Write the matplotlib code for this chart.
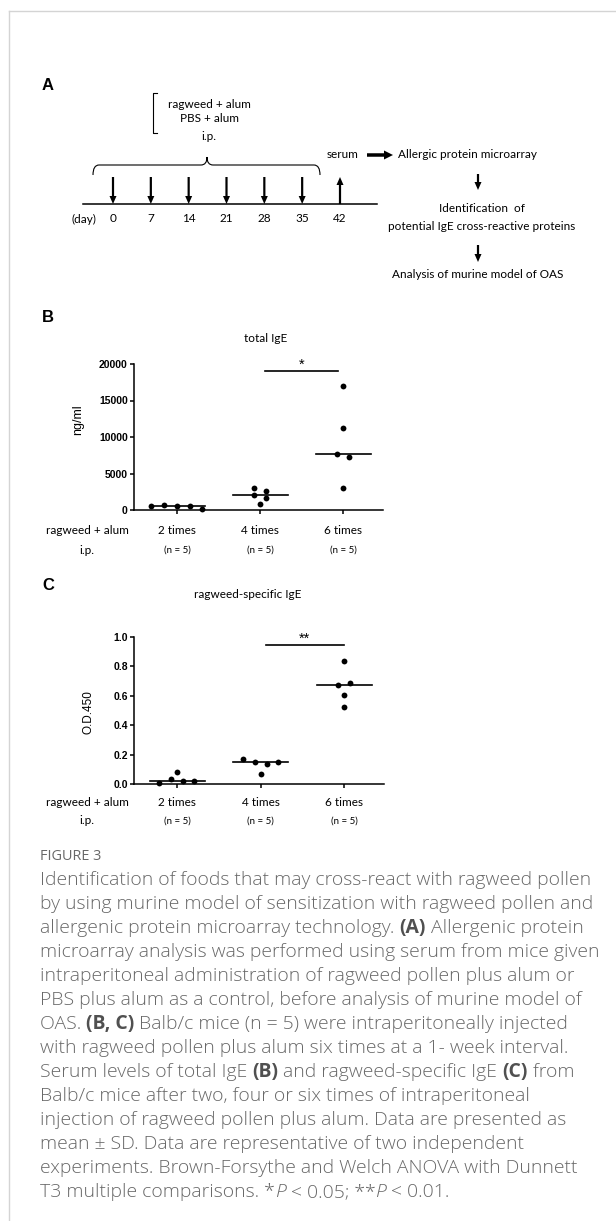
import numpy as np
import matplotlib
matplotlib.use("Agg")
import matplotlib.pyplot as plt
import matplotlib.transforms as mtransforms
from matplotlib.path import Path
from matplotlib.patches import PathPatch

# ---- data ----
groups = ["2 times", "4 times", "6 times"]
group_n = ["(n = 5)", "(n = 5)", "(n = 5)"]
row_label = ["ragweed + alum", "i.p."]

total_ige = [
    [600, 650, 580, 560, 150],
    [3000, 2100, 820, 2560, 1640],
    [16990, 11230, 7670, 7300, 3010],
]
specific_ige = [
    [0.008, 0.035, 0.083, 0.020, 0.020],
    [0.172, 0.152, 0.066, 0.137, 0.153],
    [0.836, 0.673, 0.690, 0.605, 0.525],
]
total_ticks = [0, 5000, 10000, 15000, 20000]
specific_ticks = [0.0, 0.2, 0.4, 0.6, 0.8, 1.0]

schedule_days = [0, 7, 14, 21, 28, 35]
serum_day = 42

# horizontal scatter of dots within a group (layout only)
spread_total = [[-0.31, -0.16, 0.0, 0.15, 0.30],
                [-0.07, -0.07, 0.0, 0.07, 0.07],
                [0.0, 0.0, -0.07, 0.07, 0.0]]
spread_specific = [[-0.22, -0.08, 0.0, 0.07, 0.20],
                   [-0.21, -0.07, 0.0, 0.07, 0.21],
                   [0.0, -0.07, 0.07, 0.0, 0.0]]

caption = [
    [("Identification of foods that may cross-react with ragweed pollen", "")],
    [("by using murine model of sensitization with ragweed pollen and", "")],
    [("allergenic protein microarray technology. ", ""), ("(A)", "b"), (" Allergenic protein", "")],
    [("microarray analysis was performed using serum from mice given", "")],
    [("intraperitoneal administration of ragweed pollen plus alum or", "")],
    [("PBS plus alum as a control, before analysis of murine model of", "")],
    [("OAS. ", ""), ("(B, C)", "b"), (" Balb/c mice (n = 5) were intraperitoneally injected", "")],
    [("with ragweed pollen plus alum six times at a 1- week interval.", "")],
    [("Serum levels of total IgE ", ""), ("(B)", "b"), (" and ragweed-specific IgE ", ""), ("(C)", "b"), (" from", "")],
    [("Balb/c mice after two, four or six times of intraperitoneal", "")],
    [("injection of ragweed pollen plus alum. Data are presented as", "")],
    [("mean \u00b1 SD. Data are representative of two independent", "")],
    [("experiments. Brown-Forsythe and Welch ANOVA with Dunnett", "")],
    [("T3 multiple comparisons. *", ""), ("P", "i"), (" < 0.05; **", ""), ("P", "i"), (" < 0.01.", "")],
]

LABEL_FONT = "Lato"
AXIS_FONT = "Liberation Sans"
CAP_FONT = "Open Sans"
CAP_GREY = "#686868"

fig = plt.figure(figsize=(6.16, 12.21), dpi=100)
page = fig.add_axes([0, 0, 1, 1])
page.set_xlim(0, 616)
page.set_ylim(1221, 0)
page.axis("off")

# page frame
page.plot([9, 9], [11, 1221], color="#d4d4d4", lw=1)
page.plot([9, 616], [11, 11], color="#d4d4d4", lw=1)

panel_kw = dict(fontsize=12, fontweight="bold", family=AXIS_FONT, ha="center", va="center")

# ---- panel A: schedule diagram ----
page.text(48, 86, "A", **panel_kw)

def day_x(d):
    return 113 + d * (340 - 113) / 42

txt = dict(family=LABEL_FONT, fontsize=8.5, ha="center", va="center")
page.plot([157, 153, 153, 157], [93, 93, 133, 133], color="k", lw=0.8)
page.text(209, 105, "ragweed + alum", **txt)
page.text(209, 119, "PBS + alum", **txt)
page.text(209, 136, "i.p.", **txt)

brace = Path([(93, 175), (93, 165), (99, 165), (201, 165), (207, 165), (207, 157),
              (207, 165), (213, 165), (314, 165), (320, 165), (320, 175)],
             [Path.MOVETO, Path.CURVE3, Path.CURVE3, Path.LINETO, Path.CURVE3, Path.CURVE3,
              Path.CURVE3, Path.CURVE3, Path.LINETO, Path.CURVE3, Path.CURVE3])
page.add_patch(PathPatch(brace, fill=False, lw=0.8, color="k"))

page.plot([83, 377], [204, 204], color="k", lw=1.1)
arrow_kw = dict(width=2.2, head_width=7, head_length=8, length_includes_head=True, color="k", lw=0)
for d in schedule_days:
    page.arrow(day_x(d), 177, 0, 27, **arrow_kw)
    page.text(day_x(d), 219, str(d), **txt)
page.arrow(day_x(serum_day), 204, 0, -27, **arrow_kw)
page.text(day_x(serum_day), 219, str(serum_day), **txt)
page.text(84, 219, "(day)", **txt)

page.text(343, 155, "serum", **txt)
page.arrow(367, 155, 26, 0, width=3.5, head_width=9, head_length=9, length_includes_head=True, color="k", lw=0)
page.text(398, 155, "Allergic protein microarray", family=LABEL_FONT, fontsize=8.5, ha="left", va="center")
page.arrow(478, 174, 0, 16, **arrow_kw)
page.text(482, 209, "Identification  of", **txt)
page.text(482, 227, "potential IgE cross-reactive proteins", **txt)
page.arrow(478, 245, 0, 17, **arrow_kw)
page.text(478, 275, "Analysis of murine model of OAS", **txt)


# ---- panels B and C ----
def dot_panel(ax, values, spread, ticks, fmt):
    for s in ["top", "right"]:
        ax.spines[s].set_visible(False)
    for s in ["left", "bottom"]:
        ax.spines[s].set_linewidth(1.1)
    ax.patch.set_visible(False)
    ax.set_xlim(-0.52, 2.48)
    ax.set_ylim(ticks[0], ticks[-1])
    ax.set_yticks(ticks)
    ax.set_yticklabels([fmt.format(t) for t in ticks], family=AXIS_FONT,
                       fontweight="bold", fontsize=7.5)
    ax.set_xticks(range(len(groups)))
    ax.set_xticklabels([])
    ax.tick_params(length=3, width=1.1, pad=1.5)
    for i, vals in enumerate(values):
        ax.plot(i + np.array(spread[i]), vals, "o", color="k", ms=4.2,
                mec="none", clip_on=False, zorder=3)
        m = np.median(vals)
        ax.plot([i - 0.33, i + 0.33], [m, m], color="k", lw=1.2)


def group_labels(ax, y_name, y_n):
    trans = mtransforms.blended_transform_factory(ax.transData, page.transData)
    for i, (g, n) in enumerate(zip(groups, group_n)):
        page.text(i, y_name, g, transform=trans, family=LABEL_FONT, fontsize=8.5,
                  ha="center", va="center")
        page.text(i, y_n, n, transform=trans, family=LABEL_FONT, fontsize=7,
                  ha="center", va="center")
    page.text(87, y_name, row_label[0], **txt)
    page.text(87, y_n, row_label[1], **txt)


def sig_bar(ax, x0, x1, y, mark):
    ax.plot([x0, x1], [y, y], color="k", lw=1.2, clip_on=False)
    ax.annotate(mark, xy=((x0 + x1) / 2, y), xytext=(0, 0), textcoords="offset points",
                ha="center", va="bottom", fontsize=10.5, family=AXIS_FONT)


page.text(48, 317, "B", **panel_kw)
page.text(266, 338, "total IgE", **txt)
axB = fig.add_axes([134 / 616, 1 - 510 / 1221, 249 / 616, 146 / 1221])
dot_panel(axB, total_ige, spread_total, total_ticks, "{:d}")
sig_bar(axB, 1.06, 1.94, 19000, "*")
page.text(78, 420, "ng/ml", family=AXIS_FONT, fontsize=9, rotation=90, ha="center", va="center")
group_labels(axB, 530, 550)

page.text(48, 585, "C", **panel_kw)
page.text(248, 595, "ragweed-specific IgE", **txt)
axC = fig.add_axes([134 / 616, 1 - 784 / 1221, 250 / 616, 147 / 1221])
dot_panel(axC, specific_ige, spread_specific, specific_ticks, "{:.1f}")
sig_bar(axC, 1.06, 2.0, 0.943, "**")
page.text(88, 712, "O.D.450", family=AXIS_FONT, fontsize=8.5, rotation=90, ha="center", va="center")
group_labels(axC, 802, 821)

# ---- caption ----
# size the caption font so the first line spans the same width as in the figure
probe = page.text(0, 0, caption[0][0][0], family=CAP_FONT, fontsize=10, fontweight=300)
fig.canvas.draw()
cap_size = 10 * 548 / probe.get_window_extent().width
probe.remove()

page.text(40, 857, "FIGURE 3", family=CAP_FONT, fontsize=cap_size * 0.75, color=CAP_GREY,
          ha="left", va="center")
for k, line in enumerate(caption):
    y = 880 + 24 * k
    prev = None
    for seg, style in line:
        kw = dict(family=CAP_FONT, fontsize=cap_size, color=CAP_GREY, fontweight=300)
        if style == "b":
            kw.update(fontweight="bold", color="#505050")
        elif style == "i":
            kw.update(fontstyle="italic")
        if prev is None:
            prev = page.text(40, y, seg, ha="left", va="center", **kw)
        else:
            prev = page.annotate(seg, xy=(1, 0.5), xycoords=prev, ha="left", va="center", **kw)

fig.savefig("out.png", dpi=100)
